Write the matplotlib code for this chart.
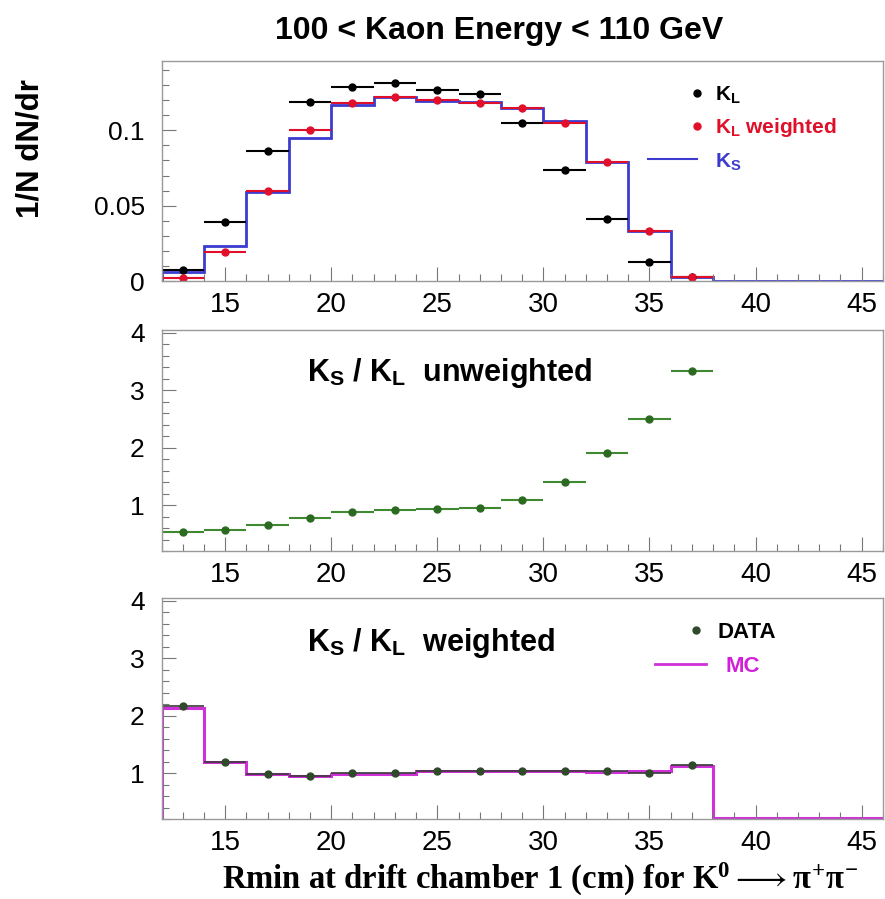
import numpy as np
import matplotlib.pyplot as plt
from matplotlib.lines import Line2D
from matplotlib.ticker import MultipleLocator

plt.rcParams['font.family'] = ['Liberation Sans', 'DejaVu Sans']
plt.rcParams['mathtext.fontset'] = 'custom'
plt.rcParams['mathtext.rm'] = 'Liberation Serif:bold'
plt.rcParams['mathtext.it'] = 'Liberation Serif:bold'
plt.rcParams['mathtext.bf'] = 'Liberation Serif:bold'
plt.rcParams['mathtext.sf'] = 'Liberation Sans:bold'

# Rmin bins (cm)
r_edges = [12, 14, 16, 18, 20, 22, 24, 26, 28, 30, 32, 34, 36, 38, 40, 42, 44, 46]

# top panel: normalised distributions
kl = [0.0073, 0.0394, 0.0865, 0.119, 0.129, 0.1313, 0.1268, 0.124, 0.105,
      0.0737, 0.0412, 0.0128, 0.0027]
kl_weighted = [0.002, 0.0195, 0.060, 0.1003, 0.1184, 0.1224, 0.1202, 0.118,
               0.1147, 0.1051, 0.0792, 0.0332, 0.0025]
ks = [0.006, 0.0233, 0.0593, 0.0947, 0.1169, 0.122, 0.1197, 0.119, 0.1147,
      0.1062, 0.0792, 0.0335, 0.0027, 0, 0, 0, 0]

# middle panel: KS/KL unweighted
ratio_unweighted = [0.534, 0.563, 0.655, 0.776, 0.879, 0.914, 0.925, 0.954,
                    1.086, 1.41, 1.91, 2.505, 3.34]

# bottom panel: KS/KL weighted, data and MC
ratio_data = [2.16, 1.20, 0.99, 0.95, 1.0, 1.0, 1.03, 1.035, 1.035, 1.035,
              1.03, 1.005, 1.135]
ratio_mc = [2.13, 1.19, 0.99, 0.95, 0.99, 0.99, 1.03, 1.035, 1.035, 1.04,
            1.025, 1.035, 1.12, 0, 0, 0, 0]

edges = np.array(r_edges, dtype=float)
centers = (edges[:-1] + edges[1:]) / 2
half = np.diff(edges) / 2
n_pts = len(kl)
ratio_ymin, ratio_ymax = 0.2, 4.05

fig = plt.figure(figsize=(8.85, 8.99), dpi=100)
left, width = 0.1825, 0.815
ax1 = fig.add_axes([left, 0.6874, width, 0.2447])
ax2 = fig.add_axes([left, 0.3871, width, 0.2458])
ax3 = fig.add_axes([left, 0.0890, width, 0.2458])


def style(ax, ymin, ymax, minor, yticks, ylabels):
    ax.set_xlim(12, 46)
    ax.set_ylim(ymin, ymax)
    ax.xaxis.set_minor_locator(MultipleLocator(1))
    ax.set_xticks([15, 20, 25, 30, 35, 40, 45])
    ax.yaxis.set_minor_locator(MultipleLocator(minor))
    ax.set_yticks(yticks)
    ax.set_yticklabels(ylabels)
    ax.tick_params(which='both', direction='in', top=False, right=False,
                   color='#777777')
    ax.tick_params(which='major', length=10, width=0.8)
    ax.tick_params(which='minor', length=5, width=0.8)
    ax.tick_params(axis='x', labelsize=20, pad=8)
    ax.tick_params(axis='y', labelsize=19, pad=12)
    for s in ax.spines.values():
        s.set_color('#999999')
        s.set_linewidth(1)


# --- top panel
style(ax1, 0, 0.146, 0.01, [0, 0.05, 0.1], ['0', '0.05', '0.1'])
ax1.stairs(ks, edges, color='#3b3bd0', lw=2, baseline=0)
ax1.errorbar(centers[:n_pts], kl, xerr=half[:n_pts], fmt='o', color='black',
             ms=5, elinewidth=1.5, capsize=0)
ax1.errorbar(centers[:n_pts], kl_weighted, xerr=half[:n_pts], fmt='o',
             color='#e0102a', ms=5, elinewidth=1.5, capsize=0)

h_kl = Line2D([], [], ls='none', marker='o', color='black', ms=5)
h_klw = Line2D([], [], ls='none', marker='o', color='#e0102a', ms=5)
h_ks = Line2D([], [], color='#3b3bd0', lw=1.5)
leg_a = ax1.legend([h_kl, h_klw], [r'K$_{\mathsf{L}}$', r'K$_{\mathsf{L}}$ weighted'],
                   loc='center left', bbox_to_anchor=(0.728, 0.77), frameon=False,
                   handlelength=1.0, handletextpad=0.37,
                   labelspacing=0.5, borderpad=0, borderaxespad=0,
                   prop={'weight': 'bold', 'size': 15})
for t, c in zip(leg_a.get_texts(), ['black', '#e0102a']):
    t.set_color(c)
ax1.add_artist(leg_a)
leg_b = ax1.legend([h_ks], [r'K$_{\mathsf{S}}$'], loc='center left',
                   bbox_to_anchor=(0.674, 0.545), frameon=False,
                   handlelength=2.36, handletextpad=0.87, borderpad=0,
                   borderaxespad=0, prop={'weight': 'bold', 'size': 15})
leg_b.get_texts()[0].set_color('#3b3bd0')

# --- middle panel
style(ax2, ratio_ymin, ratio_ymax, 0.2, [1, 2, 3, 4], ['1', '2', '3', '4'])
ax2.errorbar(centers[:n_pts], ratio_unweighted, xerr=half[:n_pts], fmt='o',
             color='#2c6a22', ecolor='#3f8a30', ms=5, elinewidth=1.5, capsize=0)
ax2.text(0.2017, 0.805, r'K$_{\mathsf{S}}$ / K$_{\mathsf{L}}$  unweighted',
         transform=ax2.transAxes, fontsize=22, fontweight='bold',
         ha='left', va='center')

# --- bottom panel (bins below the frame are drawn on the frame edge, ROOT style)
style(ax3, ratio_ymin, ratio_ymax, 0.2, [1, 2, 3, 4], ['1', '2', '3', '4'])
ax3.stairs(np.maximum(ratio_mc, ratio_ymin + 0.01), edges, color='#d030d8',
           lw=2.2, baseline=ratio_ymin)
ax3.errorbar(centers[:n_pts], ratio_data, xerr=half[:n_pts], fmt='o',
             color='#2f4a2a', ecolor='#3a3a3a', ms=5, elinewidth=1.2, capsize=0)
ax3.text(0.2017, 0.796, r'K$_{\mathsf{S}}$ / K$_{\mathsf{L}}$  weighted',
         transform=ax3.transAxes, fontsize=22, fontweight='bold',
         ha='left', va='center')
h_data = Line2D([], [], ls='none', marker='o', color='#2f4a2a', ms=5)
h_mc = Line2D([], [], color='#d030d8', lw=2)
leg_c = ax3.legend([h_data], ['DATA'], loc='center left',
                   bbox_to_anchor=(0.726, 0.846), frameon=False,
                   handlelength=1.0, handletextpad=0.45, borderpad=0,
                   borderaxespad=0, prop={'weight': 'bold', 'size': 16})
ax3.add_artist(leg_c)
leg_d = ax3.legend([h_mc], ['MC'], loc='center left',
                   bbox_to_anchor=(0.684, 0.692), frameon=False,
                   handlelength=2.3, handletextpad=0.9, borderpad=0,
                   borderaxespad=0, prop={'weight': 'bold', 'size': 16})
leg_d.get_texts()[0].set_color('#d020d8')

# titles and labels
fig.text(0.564, 0.966, '100 < Kaon Energy < 110 GeV', ha='center', va='center',
         fontsize=23, fontweight='bold')
fig.text(0.034, 0.835, '1/N dN/dr', rotation=90, ha='center', va='center',
         fontsize=22.5, fontweight='bold')
fig.text(0.61, 0.022,
         r'Rmin at drift chamber 1 (cm) for K$^{0}$$\longrightarrow$$\pi^{+}\pi^{-}$',
         ha='center', va='center', fontsize=23.5, fontweight='bold',
         family='Liberation Serif')

fig.savefig('out.png', dpi=100)
